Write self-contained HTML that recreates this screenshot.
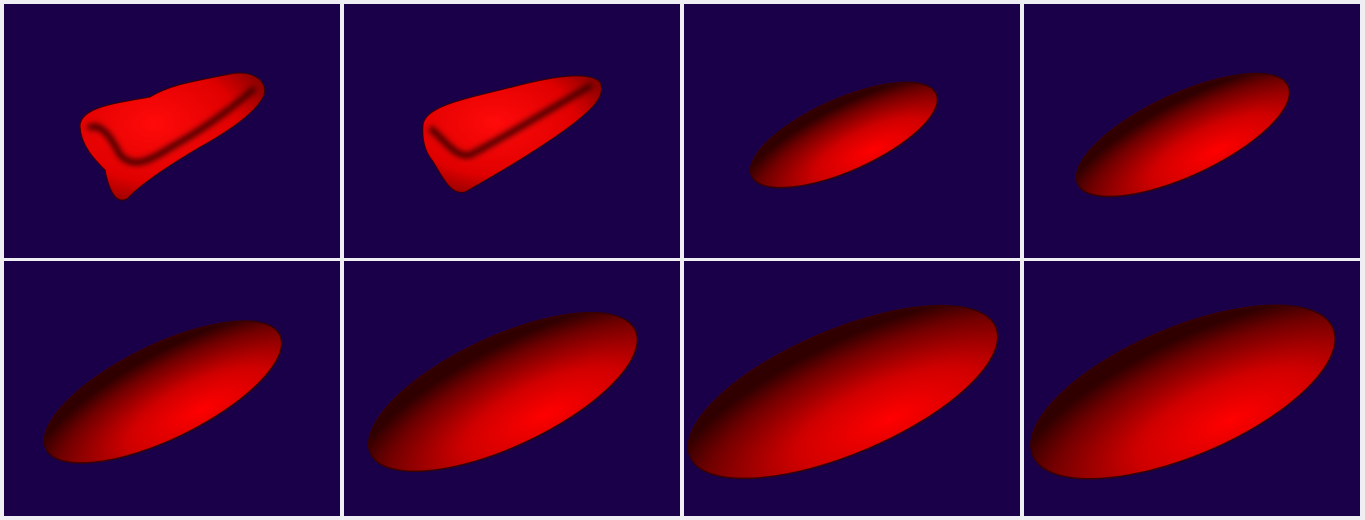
<!DOCTYPE html>
<html><head><meta charset="utf-8"><style>
html,body{margin:0;padding:0;background:#efeef2;width:1365px;height:520px;overflow:hidden}
svg{display:block}
</style></head><body>
<svg id="fig" width="1365" height="520" viewBox="0 0 1365 520">
<defs>
<radialGradient id="g" cx="0.6" cy="0.85" r="0.75">
<stop offset="0" stop-color="#ff0000"/><stop offset="0.4" stop-color="#d00000"/><stop offset="0.8" stop-color="#700000"/><stop offset="1" stop-color="#300000"/>
</radialGradient>
<radialGradient id="g2" cx="0.4" cy="0.4" r="0.75">
<stop offset="0" stop-color="#ff0a0a"/><stop offset="0.6" stop-color="#e00000"/><stop offset="0.9" stop-color="#8a0000"/><stop offset="1" stop-color="#300000"/>
</radialGradient>
<filter id="blur"><feGaussianBlur stdDeviation="3"/></filter>
</defs>
<g id="panels"></g>
</svg>
<script>
const NS='http://www.w3.org/2000/svg';
// panel grid
const colX=[4,344,684,1024];
const rowY=[4,261];
// ellipse shapes (panels 3-8): center x, center y, rx, ry, rotation
const ellCx=[844,1183,163,503,843,1183];
const ellCy=[135,135,392,392,392,392];
const ellRx=[101,116,130,146,166,163];
const ellRy=[36,41,47,55,62,64];
const ellRot=[-24,-25,-26,-25,-23,-23];
const blob1='M80,125 C82,108 110,104 150,97 C170,85 190,82 230,74 C252,70 268,80 264,95 C258,110 235,128 195,150 C165,168 140,185 128,198 C118,205 110,195 105,170 C95,160 80,145 80,125 Z';
const blob2='M423,125 C425,105 470,98 520,85 C560,75 590,72 600,82 C606,95 595,108 565,130 C530,155 490,178 465,192 C450,196 442,175 432,160 C424,150 422,138 423,125 Z';
const crease1='M88,128 C100,122 110,135 120,155 C135,170 150,160 175,145 C205,128 230,110 255,88';
const crease2='M430,128 C445,140 455,158 470,155 C500,140 540,115 592,85';
const g=document.getElementById('panels');
let k=0;
for(let r=0;r<2;r++)for(let c=0;c<4;c++){
  const rect=document.createElementNS(NS,'rect');
  rect.setAttribute('x',colX[c]);rect.setAttribute('y',rowY[r]);
  rect.setAttribute('width',336);rect.setAttribute('height',r==0?254:255);
  rect.setAttribute('fill','#1a0048');
  
  
  g.appendChild(rect);
  k++;
}
[[blob1,crease1],[blob2,crease2]].forEach((d,i)=>{
  const p=document.createElementNS(NS,'path');
  p.setAttribute('d',d[0]);p.setAttribute('fill','url(#g2)');
  p.setAttribute('stroke','#3a0000');p.setAttribute('stroke-width','1');
  
  
  g.appendChild(p);
  const c=document.createElementNS(NS,'path');
  c.setAttribute('d',d[1]);c.setAttribute('fill','none');
  c.setAttribute('stroke','#400000');c.setAttribute('stroke-width','6');
  c.setAttribute('filter','url(#blur)');
  
  
  g.appendChild(c);
});
for(let i=0;i<ellCx.length;i++){
  const e=document.createElementNS(NS,'ellipse');
  e.setAttribute('cx',ellCx[i]);e.setAttribute('cy',ellCy[i]);
  e.setAttribute('rx',ellRx[i]);e.setAttribute('ry',ellRy[i]);
  e.setAttribute('transform','rotate('+ellRot[i]+' '+ellCx[i]+' '+ellCy[i]+')');
  e.setAttribute('fill','url(#g)');
  e.setAttribute('stroke','#3a0000');e.setAttribute('stroke-width','1.5');
  
  
  g.appendChild(e);
}
</script>
</body></html>
